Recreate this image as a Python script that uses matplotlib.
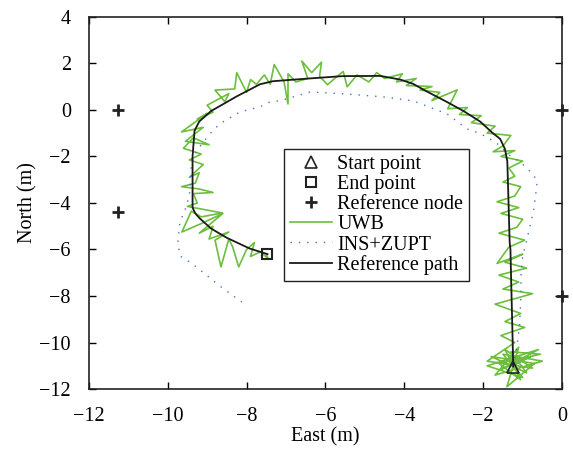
import matplotlib.pyplot as plt
import numpy as np

plt.rcParams['font.family'] = ['Liberation Serif', 'DejaVu Serif']

# reference path (black)
ref_x = [-1.24, -1.26, -1.29, -1.31, -1.33, -1.35, -1.37, -1.39, -1.45, -1.57, -1.77, -2.08,
         -2.5, -2.92, -3.44, -3.78, -4.1, -4.61, -5.57, -6.57, -7.34, -7.66, -8.25, -8.9,
         -9.2, -9.32, -9.37, -9.37, -9.3, -9.19, -8.9, -8.5, -7.92, -7.47]
ref_y = [-11.03, -9.5, -7.47, -6.0, -5.68, -4.5, -3.3, -2.2, -1.68, -1.25, -0.98, -0.5,
         -0.05, 0.34, 0.8, 1.12, 1.3, 1.46, 1.45, 1.33, 1.23, 1.1, 0.58, -0.05,
         -0.5, -0.9, -2.0, -4.2, -4.45, -4.66, -5.1, -5.5, -5.96, -6.2]

# INS+ZUPT (blue dotted)
ins_x = [-1.24, -1.15, -1.08, -1.05, -1.04, -1.0, -0.92, -0.8, -0.72, -0.66, -0.63, -0.75,
         -1.06, -1.31, -1.69, -2.1, -2.41, -2.92, -3.78, -4.54, -5.55, -6.39, -6.73, -7.15,
         -7.41, -7.66, -8.17, -8.68, -8.93, -9.23, -9.39, -9.44, -9.52, -9.69, -9.74, -9.69,
         -9.44, -9.11, -8.68, -8.12]
ins_y = [-11.03, -10.2, -9.3, -8.2, -7.0, -6.3, -5.75, -4.9, -4.3, -3.5, -3.05, -2.75,
         -2.24, -1.98, -1.38, -1.0, -0.82, -0.17, 0.39, 0.56, 0.69, 0.77, 0.6, 0.39,
         0.34, 0.13, -0.09, -0.6, -1.03, -1.68, -2.11, -3.53, -4.13, -4.82, -5.68, -6.28,
         -6.54, -6.97, -7.57, -8.26]

# UWB (green zigzag)
uwb = [
    (-1.24, -11.0), (-0.8, -10.6), (-1.6, -11.2), (-0.6, -10.3), (-1.9, -11.0), (-1.0, -11.5),
    (-1.5, -10.5), (-0.5, -10.8), (-1.7, -11.4), (-1.1, -10.2), (-1.4, -11.9), (-0.7, -10.9),
    (-1.8, -10.6), (-0.9, -11.3), (-1.3, -10.4), (-0.55, -10.5), (-1.6, -10.9), (-1.05, -11.6),
    (-1.45, -10.3), (-0.75, -11.1), (-1.9, -10.8), (-1.2, -10.0),
    (-1.55, -9.7), (-0.95, -9.35), (-1.45, -9.1), (-1.05, -8.75), (-1.7, -8.35), (-0.75, -7.9),
    (-1.5, -7.7), (-1.1, -7.4), (-1.6, -7.1), (-0.9, -6.8), (-1.45, -6.55), (-1.0, -6.2),
    (-1.65, -6.6), (-1.35, -5.9), (-0.95, -5.6), (-1.6, -5.3), (-1.15, -5.05), (-1.0, -4.7),
    (-1.55, -4.45), (-1.1, -4.2), (-1.65, -3.95), (-1.2, -3.7), (-1.05, -3.3), (-1.5, -3.1),
    (-1.2, -2.85), (-1.35, -2.5), (-1.0, -2.2), (-1.55, -2.0), (-1.2, -1.75), (-1.75, -1.8),
    (-1.5, -1.55), (-1.3, -1.1), (-1.9, -1.0), (-1.7, -0.7), (-2.3, -0.55), (-2.05, -0.25),
    (-2.6, -0.2), (-2.4, 0.1), (-2.9, 0.05), (-2.66, 0.86), (-3.3, 0.4), (-3.1, 0.75),
    (-3.6, 0.85), (-3.3, 1.0), (-3.95, 1.05), (-3.7, 1.35), (-4.2, 1.2), (-4.05, 1.55),
    (-4.5, 1.35),
    (-4.7, 1.6), (-4.9, 1.2), (-5.2, 1.5), (-5.45, 0.99), (-5.55, 1.65), (-5.8, 1.3),
    (-5.95, 1.08), (-6.15, 1.45), (-6.1, 2.05), (-6.35, 1.6), (-6.6, 2.1), (-6.45, 1.35),
    (-6.75, 1.2), (-6.95, 1.55), (-6.95, 0.25), (-7.05, 1.2), (-7.3, 1.95), (-7.4, 1.1),
    (-7.55, 1.5), (-7.75, 1.1), (-7.9, 1.3),
    (-8.0, 0.75), (-8.25, 1.6), (-8.3, 0.9), (-8.8, 0.85), (-8.55, 0.35), (-8.45, 0.7),
    (-9.0, 0.2), (-8.85, -0.1), (-9.25, -0.4), (-9.0, -0.15), (-9.65, -0.95), (-9.1, -0.75),
    (-9.55, -1.35), (-8.95, -1.5), (-9.35, -1.2),
    (-9.6, -1.65), (-9.15, -1.9), (-9.45, -2.15), (-9.1, -2.35), (-9.45, -2.9), (-9.2, -2.7),
    (-9.3, -3.15), (-9.65, -3.3), (-9.2, -3.4), (-8.85, -3.55), (-9.35, -3.6), (-9.25, -4.0),
    (-9.5, -4.15), (-8.62, -4.43), (-9.15, -4.6), (-9.4, -4.35), (-9.64, -5.25),
    (-9.1, -4.85), (-8.6, -4.45), (-9.2, -5.3), (-8.85, -5.0), (-8.95, -5.55), (-8.45, -5.25),
    (-8.8, -5.6), (-8.65, -6.75), (-8.45, -5.55), (-8.35, -5.9), (-8.2, -6.75), (-8.0, -6.0),
    (-7.8, -5.7), (-7.9, -6.3), (-7.65, -6.1), (-7.45, -6.4), (-7.5, -6.2),
]
uwb_x = [p[0] for p in uwb]
uwb_y = [p[1] for p in uwb]

start = (-1.24, -11.03)
end = (-7.47, -6.2)
node_x = [-11.27, -11.27, 0.0, 0.0]
node_y = [0.0, -4.4, 0.0, -8.0]

fig = plt.figure(figsize=(5.73, 4.54), dpi=100)
ax = fig.add_axes([0.155, 0.143, 0.826, 0.82])

ax.plot(start[0], start[1], '^', ms=8, mfc='none', mec='#222222', mew=1.2,
        label='Start point', zorder=5)
ax.plot(end[0], end[1], 's', ms=7, mfc='none', mec='#222222', mew=1.5,
        label='End point', zorder=5)
ax.plot(node_x, node_y, '+', ms=8, mew=2, color='#222222', ls='none',
        label='Reference node', clip_on=False, zorder=5)
ax.plot(uwb_x, uwb_y, color='#6cbf3c', lw=1.2, label='UWB', zorder=2)
ax.plot(ins_x, ins_y, color='#4472c4', lw=1.0, ls=(0, (1, 5)), label='INS+ZUPT', zorder=3)
ax.plot(ref_x, ref_y, color='#1a1a1a', lw=1.3, label='Reference path', zorder=4)

ax.set_xlim(-12, 0)
ax.set_ylim(-12, 4)
ax.set_xticks(np.arange(-12, 1, 2))
ax.set_yticks(np.arange(-12, 5, 2))
ax.tick_params(direction='in', top=True, right=True, length=5, width=1, labelsize=14.5)
ax.tick_params(axis='x', pad=13)
ax.tick_params(axis='y', pad=13)
for s in ax.spines.values():
    s.set_linewidth(1.2)
    s.set_color('#222222')

ax.set_xlabel('East (m)', fontsize=14.5, labelpad=1)
ax.set_ylabel('North (m)', fontsize=14.5, labelpad=1)

leg = ax.legend(loc='upper left', bbox_to_anchor=(0.412, 0.645), fontsize=14.5,
                frameon=True, fancybox=False, edgecolor='#222222', framealpha=1,
                labelspacing=0.05, handlelength=2.1, handletextpad=0.25,
                borderpad=0.3, borderaxespad=0)
leg.get_frame().set_linewidth(1.0)

fig.savefig('out.png', dpi=100)
